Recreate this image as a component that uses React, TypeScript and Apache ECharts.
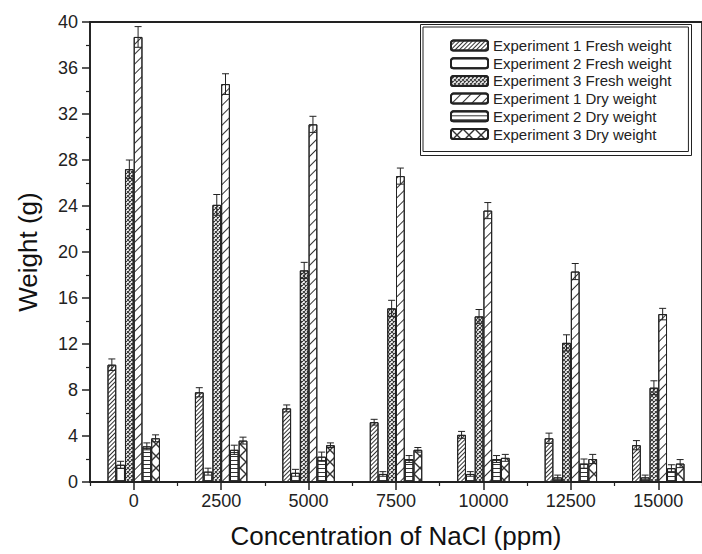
import React, { useEffect, useRef } from "react";
import * as echarts from "echarts";

const categories = ["0", "2500", "5000", "7500", "10000", "12500", "15000"];
const seriesNames = [
  "Experiment 1 Fresh weight",
  "Experiment 2 Fresh weight",
  "Experiment 3 Fresh weight",
  "Experiment 1 Dry weight",
  "Experiment 2 Dry weight",
  "Experiment 3 Dry weight",
];
const exp1Fresh = [10.2, 7.8, 6.4, 5.2, 4.1, 3.8, 3.2];
const exp1FreshErr = [0.5, 0.4, 0.3, 0.25, 0.3, 0.45, 0.4];
const exp2Fresh = [1.5, 0.9, 0.8, 0.7, 0.7, 0.4, 0.4];
const exp2FreshErr = [0.3, 0.3, 0.3, 0.2, 0.2, 0.2, 0.2];
const exp3Fresh = [27.2, 24.1, 18.4, 15.1, 14.4, 12.1, 8.2];
const exp3FreshErr = [0.8, 0.9, 0.7, 0.7, 0.6, 0.7, 0.6];
const exp1Dry = [38.7, 34.6, 31.1, 26.6, 23.6, 18.3, 14.6];
const exp1DryErr = [0.9, 0.9, 0.7, 0.7, 0.7, 0.7, 0.5];
const exp2Dry = [3.1, 2.8, 2.2, 2.0, 2.0, 1.6, 1.2];
const exp2DryErr = [0.3, 0.4, 0.4, 0.3, 0.3, 0.4, 0.3];
const exp3Dry = [3.8, 3.6, 3.2, 2.8, 2.1, 2.0, 1.6];
const exp3DryErr = [0.3, 0.3, 0.2, 0.2, 0.3, 0.4, 0.35];

const yTicks = { min: 0, max: 40, interval: 4 };

const FONT = "'Liberation Sans', Arial, Helvetica, sans-serif";
const INK = "#222";
const XPATH_THIN =
  "path://M0,0L1,0L12,11L12,12L11,12L0,1Z M11,0L12,0L12,1L1,12L0,12L0,11Z";
const XPATH_MID =
  "path://M0,0L2,0L12,10L12,12L10,12L0,2Z M10,0L12,0L12,2L2,12L0,12L0,10Z";

const decals: any[] = [
  { symbol: "rect", dashArrayX: [1, 0], dashArrayY: [1, 2], rotation: -Math.PI / 4, color: "#333" },
  { symbol: "rect", dashArrayX: [1, 0], dashArrayY: [1, 11], rotation: 0, color: "#333" },
  { symbol: XPATH_MID, dashArrayX: [4, 0], dashArrayY: [4, 0], rotation: 0, color: "#333" },
  { symbol: "rect", dashArrayX: [1, 0], dashArrayY: [1, 6], rotation: -Math.PI / 4, color: "#333" },
  { symbol: "rect", dashArrayX: [1, 0], dashArrayY: [1, 3], rotation: 0, color: "#333" },
  { symbol: XPATH_THIN, dashArrayX: [12, 0], dashArrayY: [12, 0], rotation: 0, color: "#333" },
];

export default function App() {
  const ref = useRef<HTMLDivElement>(null);
  useEffect(() => {
    if (!ref.current) return;
    const chart = echarts.init(ref.current, undefined, { renderer: "svg" });
    const values = [exp1Fresh, exp2Fresh, exp3Fresh, exp1Dry, exp2Dry, exp3Dry];
    const errs = [exp1FreshErr, exp2FreshErr, exp3FreshErr, exp1DryErr, exp2DryErr, exp3DryErr];
    const errData: number[][] = [];
    values.forEach((vals, si) => {
      vals.forEach((v, ci) => errData.push([ci, si, v, errs[si][ci]]));
    });
    const lineStyle = { color: INK, width: 1.5 };
    const option: any = {
      animation: false,
      backgroundColor: "#fff",
      textStyle: { fontFamily: FONT },
      grid: {
        left: 90,
        top: 22,
        right: -4,
        bottom: 68,
        show: true,
        borderColor: INK,
        borderWidth: 1.8,
        backgroundColor: "transparent",
      },
      graphic: [
        {
          type: "rect",
          left: 420,
          top: 24,
          shape: { x: 0, y: 0, width: 271, height: 131 },
          style: { fill: "#fff", stroke: INK, lineWidth: 1 },
          z: -1,
          silent: true,
        },
      ],
      legend: {
        data: seriesNames,
        orient: "vertical",
        left: 423,
        top: 27,
        padding: [11, 17, 10, 27],
        itemGap: 2.7,
        itemWidth: 37,
        itemHeight: 10,
        borderColor: INK,
        borderWidth: 1,
        backgroundColor: "#fff",
        textStyle: { fontSize: 15, lineHeight: 15, color: INK, fontFamily: FONT },
      },
      xAxis: [
        {
          type: "category",
          data: categories,
          position: "bottom",
          axisLine: { lineStyle },
          axisTick: { show: true, alignWithLabel: true, length: 8, lineStyle: { color: INK, width: 1.5 } },
          axisLabel: { fontSize: 18, color: INK, margin: 10, fontFamily: FONT },
          splitLine: { show: false },
          name: "Concentration of NaCl (ppm)",
          nameLocation: "middle",
          nameGap: 41,
          nameTextStyle: { fontSize: 26, color: "#111", fontFamily: FONT },
        },
        {
          type: "category",
          data: categories,
          position: "bottom",
          axisLine: { show: false },
          axisTick: { show: true, alignWithLabel: false, length: 4, lineStyle: { color: INK, width: 1.2 } },
          axisLabel: { show: false },
          splitLine: { show: false },
        },
      ],
      yAxis: {
        type: "value",
        min: yTicks.min,
        max: yTicks.max,
        interval: yTicks.interval,
        axisLine: { show: true, lineStyle },
        axisTick: { show: true, length: 8, lineStyle: { color: INK, width: 1.5 } },
        minorTick: { show: true, splitNumber: 2, length: 4, lineStyle: { color: INK, width: 1.2 } },
        splitLine: { show: false },
        axisLabel: { fontSize: 18, color: INK, margin: 12, fontFamily: FONT },
        name: "Weight (g)",
        nameLocation: "middle",
        nameGap: 49,
        nameTextStyle: { fontSize: 26, color: "#111", fontFamily: FONT },
      },
      series: [
        ...values.map((vals, si) => ({
          type: "bar",
          name: seriesNames[si],
          data: vals,
          barWidth: "10%",
          barGap: "0%",
          itemStyle: { color: "#fff", borderColor: INK, borderWidth: 1, decal: decals[si] },
          emphasis: { disabled: true },
        })),
        {
          type: "custom",
          name: "errors",
          data: errData,
          encode: { x: 0, y: 2 },
          z: 10,
          silent: true,
          renderItem: (params: any, api: any) => {
            const ci = api.value(0);
            const si = api.value(1);
            const v = api.value(2);
            const e = api.value(3);
            const band = api.size([1, 0])[0];
            const bw = band * 0.1;
            const cx = api.coord([ci, v])[0] + (si - 2.5) * bw;
            const yTop = api.coord([ci, v + e])[1];
            const yBot = api.coord([ci, Math.max(0, v - e)])[1];
            const hw = bw * 0.4;
            const st = { stroke: INK, lineWidth: 1 };
            return {
              type: "group",
              children: [
                { type: "line", shape: { x1: cx, y1: yTop, x2: cx, y2: yBot }, style: st },
                { type: "line", shape: { x1: cx - hw, y1: yTop, x2: cx + hw, y2: yTop }, style: st },
                { type: "line", shape: { x1: cx - hw, y1: yBot, x2: cx + hw, y2: yBot }, style: st },
              ],
            };
          },
        },
      ],
    };
    chart.setOption(option);
    return () => chart.dispose();
  }, []);
  return (
    <div
      ref={ref}
      style={{ position: "fixed", left: 0, top: 0, width: 702, height: 554, background: "#fff" }}
    />
  );
}
